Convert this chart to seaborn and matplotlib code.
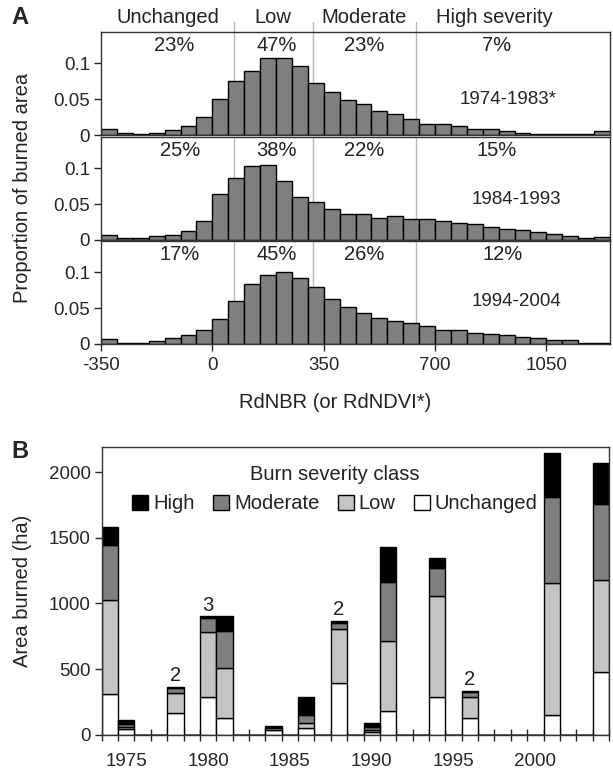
import numpy as np
import pandas as pd
import matplotlib
matplotlib.use('Agg')
import matplotlib.pyplot as plt
from matplotlib.ticker import FixedLocator
import seaborn as sns

# ---- Panel A data: proportion of burned area per RdNBR bin (bins of 50) ----
bin_left = [-350, -300, -250, -200, -150, -100, -50, 0, 50, 100, 150, 200, 250,
            300, 350, 400, 450, 500, 550, 600, 650, 700, 750, 800, 850, 900,
            950, 1000, 1050, 1100, 1150, 1200]
bin_edges = bin_left + [1250]
prop_1974_1983 = [0.008, 0.003, 0.002, 0.003, 0.007, 0.013, 0.025, 0.050, 0.076,
                  0.089, 0.108, 0.108, 0.097, 0.072, 0.060, 0.049, 0.043, 0.034,
                  0.029, 0.023, 0.016, 0.015, 0.013, 0.008, 0.009, 0.005, 0.003,
                  0.002, 0.001, 0.002, 0.001, 0.005]
prop_1984_1993 = [0.007, 0.003, 0.003, 0.005, 0.007, 0.012, 0.026, 0.065, 0.087,
                  0.103, 0.105, 0.082, 0.060, 0.053, 0.044, 0.037, 0.037, 0.031,
                  0.033, 0.030, 0.030, 0.026, 0.024, 0.023, 0.018, 0.016, 0.014,
                  0.011, 0.008, 0.005, 0.003, 0.004]
prop_1994_2004 = [0.007, 0.002, 0.002, 0.004, 0.008, 0.012, 0.019, 0.035, 0.060,
                  0.084, 0.097, 0.100, 0.092, 0.079, 0.063, 0.052, 0.043, 0.037,
                  0.032, 0.029, 0.025, 0.020, 0.019, 0.016, 0.014, 0.013, 0.010,
                  0.009, 0.006, 0.005, 0.002, 0.001]
periods = ['1974-1983*', '1984-1993', '1994-2004']
class_names = ['Unchanged', 'Low', 'Moderate', 'High severity']
class_thresholds = [69, 316, 641]
class_pcts = [['23%', '47%', '23%', '7%'],
              ['25%', '38%', '22%', '15%'],
              ['17%', '45%', '26%', '12%']]

# ---- Panel B data: area burned (ha) per year and burn severity class ----
years = [1974, 1975, 1978, 1980, 1981, 1984, 1986, 1988, 1990, 1991, 1994, 1996, 2001, 2004]
unchanged = [310, 40, 168, 284, 130, 38, 48, 391, 22, 183, 290, 124, 147, 475]
low = [716, 20, 147, 498, 375, 15, 38, 417, 15, 531, 769, 166, 1006, 704]
moderate = [419, 25, 38, 105, 287, 6, 61, 45, 20, 452, 214, 33, 661, 576]
high = [140, 25, 13, 17, 112, 4, 137, 16, 29, 267, 71, 12, 330, 318]
fire_count_years = [1978, 1980, 1988, 1996]
fire_counts = ['2', '3', '2', '2']
year_ticks = [1975, 1980, 1985, 1990, 1995, 2000]

sns.set_style('ticks')
plt.rcParams['font.family'] = ['Liberation Sans', 'DejaVu Sans']

TXT = 14.5   # general text size
TICK = 13.5  # tick label size
ink = '#222222'

fig = plt.figure(figsize=(6.13, 7.72), dpi=100)

# layout (figure fractions)
left_a, width_a = 101 / 613, 509 / 613
panel_tops = [32, 137, 241]
panel_h = 103
hist_gray = '#808080'
line_gray = '#b8b8b8'

# text positions (data x) for class labels / percentages
class_label_x = [-139, 189, 476, 887]
pct_x = [[-120, 202, 476, 893], [-102, 202, 476, 893], [-102, 202, 476, 912]]
period_pos = [(930, 0.049), (955, 0.056), (955, 0.059)]

all_props = [prop_1974_1983, prop_1984_1993, prop_1994_2004]
axes_a = []
for i, props in enumerate(all_props):
    top = panel_tops[i]
    ax = fig.add_axes([left_a, 1 - (top + panel_h) / 772, width_a, panel_h / 772])
    sns.histplot(x=bin_left, weights=props, bins=bin_edges, color=hist_gray,
                 edgecolor='black', linewidth=1, alpha=1, ax=ax)
    ax.set_xlim(-350, 1250)
    ax.set_ylim(0, 0.144)
    ax.set_yticks([0, 0.05, 0.1])
    ax.set_yticklabels(['0', '0.05', '0.1'])
    ax.set_ylabel('')
    ax.tick_params(axis='y', direction='out', length=5, width=1, pad=3, labelsize=TICK)
    for t in class_thresholds:
        if i == 0:
            ax.axvline(t, ymin=0, ymax=1.097, color=line_gray, lw=1, zorder=0.5, clip_on=False)
        else:
            ax.axvline(t, color=line_gray, lw=1, zorder=0.5)
    for x, p in zip(pct_x[i], class_pcts[i]):
        ax.text(x, 0.87, p, transform=ax.get_xaxis_transform(), ha='center',
                va='center', fontsize=TXT, color=ink)
    ax.text(period_pos[i][0], period_pos[i][1], periods[i], ha='center', va='center',
            fontsize=TICK, color=ink)
    for s in ax.spines.values():
        s.set_visible(True)
        s.set_linewidth(1)
        s.set_color('#333333')
    if i < 2:
        ax.tick_params(axis='x', bottom=False, labelbottom=False)
    else:
        ax.set_xticks([-350, 0, 350, 700, 1050])
        ax.set_xticklabels(['-350', '0', '350', '700', '1050'])
        ax.tick_params(axis='x', direction='out', length=5, width=1, pad=4, labelsize=TICK)
    ax.set_xlabel('')
    axes_a.append(ax)

for x, name in zip(class_label_x, class_names):
    axes_a[0].text(x, 1.136, name, transform=axes_a[0].get_xaxis_transform(),
                   ha='center', va='center', fontsize=TXT, color=ink)

fig.text(0.546, 1 - 403 / 772, 'RdNBR (or RdNDVI*)', ha='center', va='center',
         fontsize=TXT, color=ink)
fig.text(0.036, 1 - 188 / 772, 'Proportion of burned area', rotation=90,
         ha='center', va='center', fontsize=TXT, color=ink)
fig.text(0.033, 1 - 18 / 772, 'A', fontsize=17, fontweight='bold', ha='center', va='center')

# ---- Panel B ----
axb = fig.add_axes([101.7 / 613, 1 - 734.7 / 772, 507.3 / 613, 288 / 772])
df = pd.DataFrame({
    'year': years * 4,
    'class': ['High'] * len(years) + ['Moderate'] * len(years)
             + ['Low'] * len(years) + ['Unchanged'] * len(years),
    'area': high + moderate + low + unchanged,
})
palette = {'High': '#000000', 'Moderate': '#7f7f7f', 'Low': '#c4c4c4', 'Unchanged': '#ffffff'}
sns.histplot(data=df, x='year', weights='area', hue='class',
             hue_order=['High', 'Moderate', 'Low', 'Unchanged'], multiple='stack',
             discrete=True, shrink=1, palette=palette, edgecolor='black',
             linewidth=1, alpha=1, ax=axb)
axb.set_xlim(1973.5, 2004.5)
axb.set_ylim(0, 2195)
axb.set_yticks([0, 500, 1000, 1500, 2000])
axb.set_xticks(year_ticks)
axb.xaxis.set_minor_locator(FixedLocator(np.arange(1973.5, 2005, 1)))
axb.tick_params(axis='x', which='major', length=0, pad=13, labelsize=TICK)
axb.tick_params(axis='x', which='minor', direction='inout', length=9, width=1)
axb.tick_params(axis='y', direction='out', length=5, width=1, pad=3, labelsize=TICK)
axb.set_xlabel('')
axb.set_ylabel('')
for s in axb.spines.values():
    s.set_visible(True)
    s.set_linewidth(1)
    s.set_color('#333333')

totals = {y: u + l + m + h for y, u, l, m, h in zip(years, unchanged, low, moderate, high)}
for y, c in zip(fire_count_years, fire_counts):
    axb.annotate(c, (y, totals[y]), xytext=(0, 1), textcoords='offset points',
                 ha='center', va='bottom', fontsize=TXT, color=ink)

sns.move_legend(axb, 'upper center', bbox_to_anchor=(0.46, 0.97), ncol=4,
                title='Burn severity class', frameon=False, fontsize=TXT,
                title_fontsize=TXT, handlelength=0.8, handleheight=0.8,
                handletextpad=0.25, columnspacing=0.9, borderpad=0)
leg = axb.get_legend()
for t in leg.get_texts():
    t.set_color(ink)
leg.get_title().set_color(ink)

fig.text(0.036, 1 - 591 / 772, 'Area burned (ha)', rotation=90,
         ha='center', va='center', fontsize=TXT, color=ink)
fig.text(0.033, 1 - 452 / 772, 'B', fontsize=17, fontweight='bold', ha='center', va='center')

fig.savefig('out.png', dpi=100)
